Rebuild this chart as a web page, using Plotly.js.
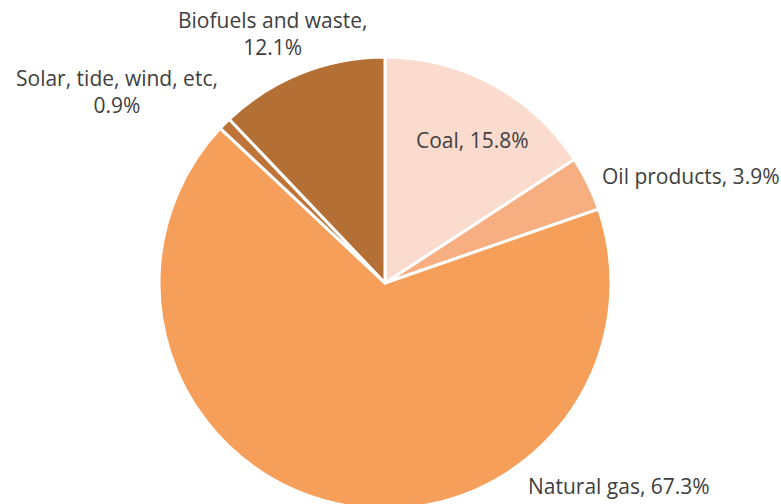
<!DOCTYPE html>
<html><head><meta charset="utf-8">
<script src="https://cdn.plot.ly/plotly-3.0.1.min.js"></script>
<style>html,body{margin:0;padding:0;overflow:hidden;background:#fff;width:781px;height:504px}</style>
</head><body><div id="chart"></div>
<script>
const labels = ["Coal", "Oil products", "Natural gas", "Solar, tide, wind, etc", "Biofuels and waste"];
const values = [15.8, 3.9, 67.3, 0.9, 12.1];
const colors = ["#FADBCE", "#F7AF82", "#F59F5B", "#BE7337", "#B46F34"];

const H = 570;
const labelPos = [
  {x: 472, y: 140, br: false},
  {x: 691, y: 176, br: false},
  {x: 619, y: 486, br: false},
  {x: 117, y: 91, br: true},
  {x: 273, y: 34, br: true}
];
const annotations = labels.map((l, i) => ({
  text: l + "," + (labelPos[i].br ? "<br>" : " ") + values[i].toFixed(1) + "%",
  x: labelPos[i].x / 781, y: 1 - labelPos[i].y / H,
  xref: "paper", yref: "paper", xanchor: "center", yanchor: "middle",
  showarrow: false, align: "center",
  font: {family: "Open Sans, sans-serif", size: 21, color: "#404040"}
}));

Plotly.newPlot("chart", [{
  type: "pie", labels: labels, values: values, sort: false,
  direction: "clockwise", rotation: 0,
  marker: {colors: colors, line: {color: "#ffffff", width: 3}},
  textinfo: "none", hoverinfo: "label+percent",
  domain: {x: [159/781, 611/781], y: [1 - 509/H, 1 - 57/H]}
}], {
  width: 781, height: H, margin: {l: 0, r: 0, t: 0, b: 0},
  showlegend: false, paper_bgcolor: "#fff",
  annotations: annotations
}, {displayModeBar: false, staticPlot: true});
</script></body></html>
